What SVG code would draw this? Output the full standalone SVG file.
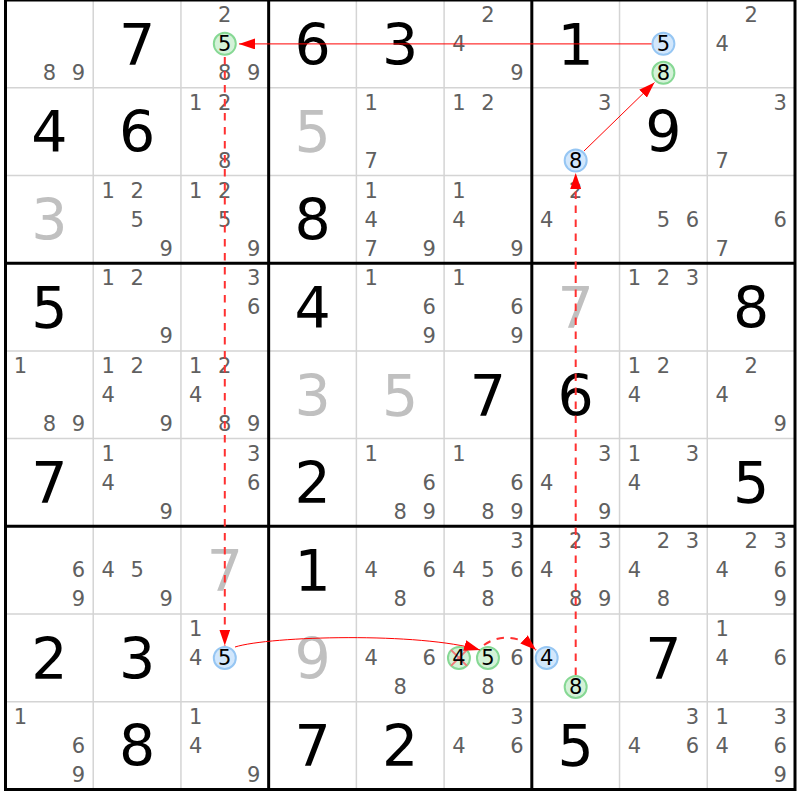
<svg xmlns="http://www.w3.org/2000/svg" width="800" height="800" viewBox="0 0 800 800">
<style>
text{font-family:"DejaVu Sans","Verdana",sans-serif;text-anchor:middle}
.g{font-size:57px;fill:#000}
.s{font-size:57px;fill:#c0c0c0}
.c{font-size:21px;fill:#606060}
.h{font-size:21px;fill:#000}
.thin{stroke:#d4d4d4;stroke-width:1.5}
.thick{stroke:#000;stroke-width:3;fill:none}
.cb{fill:#d2e7fc;stroke:#96c6f3;stroke-width:2}
.cg{fill:#d4f2d8;stroke:#86d894;stroke-width:2}
.x{stroke:#f07878;stroke-width:2}
.ln{stroke:#ff0000;stroke-width:1;fill:none}
.dl{stroke:#ff3030;stroke-width:2;fill:none;stroke-dasharray:7.5 6.5}
</style>
<defs>
<marker id="ah" markerUnits="userSpaceOnUse" markerWidth="16" markerHeight="11" viewBox="0 0 16 11" refX="16" refY="5.5" orient="auto">
<path d="M0,0 L16,5.5 L0,11 z" fill="#ff0000"/>
</marker>
</defs>
<rect width="800" height="800" fill="#fff"/>
<g id="grid">
<path class="thin" d="M93.22 0V789.5M180.94 0V789.5M356.38 0V789.5M444.1 0V789.5M619.54 0V789.5M707.26 0V789.5M5.5 87.72H795M5.5 175.44H795M5.5 350.88H795M5.5 438.6H795M5.5 614.04H795M5.5 701.76H795"/>
<path class="thick" d="M268.66 0V789.5M531.82 0V789.5M5.5 263.16H795M5.5 526.32H795"/>
<rect class="thick" x="5.5" y="0" width="789.5" height="789.5"/>
</g>
<!-- Row 0 -->
<g id="r1c1" transform="translate(49.36,43.86)"><text class="c" x="0" y="36.3">8</text><text class="c" x="29" y="36.3">9</text></g>
<g id="r1c2" transform="translate(137.08,43.86)"><text class="g" y="20.8">7</text></g>
<g id="r1c3" transform="translate(224.8,43.86)"><text class="c" x="0" y="-21.7">2</text><circle class="cg" cx="0" cy="0" r="11"/><text class="h" x="0" y="7.3">5</text><text class="c" x="0" y="36.3">8</text><text class="c" x="29" y="36.3">9</text></g>
<g id="r1c4" transform="translate(312.52,43.86)"><text class="g" y="20.8">6</text></g>
<g id="r1c5" transform="translate(400.24,43.86)"><text class="g" y="20.8">3</text></g>
<g id="r1c6" transform="translate(487.96,43.86)"><text class="c" x="0" y="-21.7">2</text><text class="c" x="-29" y="7.3">4</text><text class="c" x="29" y="36.3">9</text></g>
<g id="r1c7" transform="translate(575.68,43.86)"><text class="g" y="20.8">1</text></g>
<g id="r1c8" transform="translate(663.4,43.86)"><circle class="cb" cx="0" cy="0" r="11"/><text class="h" x="0" y="7.3">5</text><circle class="cg" cx="0" cy="29" r="11"/><text class="h" x="0" y="36.3">8</text></g>
<g id="r1c9" transform="translate(751.12,43.86)"><text class="c" x="0" y="-21.7">2</text><text class="c" x="-29" y="7.3">4</text></g>
<!-- Row 1 -->
<g id="r2c1" transform="translate(49.36,131.58)"><text class="g" y="20.8">4</text></g>
<g id="r2c2" transform="translate(137.08,131.58)"><text class="g" y="20.8">6</text></g>
<g id="r2c3" transform="translate(224.8,131.58)"><text class="c" x="-29" y="-21.7">1</text><text class="c" x="0" y="-21.7">2</text><text class="c" x="0" y="36.3">8</text></g>
<g id="r2c4" transform="translate(312.52,131.58)"><text class="s" y="20.8">5</text></g>
<g id="r2c5" transform="translate(400.24,131.58)"><text class="c" x="-29" y="-21.7">1</text><text class="c" x="-29" y="36.3">7</text></g>
<g id="r2c6" transform="translate(487.96,131.58)"><text class="c" x="-29" y="-21.7">1</text><text class="c" x="0" y="-21.7">2</text></g>
<g id="r2c7" transform="translate(575.68,131.58)"><text class="c" x="29" y="-21.7">3</text><circle class="cb" cx="0" cy="29" r="11"/><text class="h" x="0" y="36.3">8</text></g>
<g id="r2c8" transform="translate(663.4,131.58)"><text class="g" y="20.8">9</text></g>
<g id="r2c9" transform="translate(751.12,131.58)"><text class="c" x="29" y="-21.7">3</text><text class="c" x="-29" y="36.3">7</text></g>
<!-- Row 2 -->
<g id="r3c1" transform="translate(49.36,219.3)"><text class="s" y="20.8">3</text></g>
<g id="r3c2" transform="translate(137.08,219.3)"><text class="c" x="-29" y="-21.7">1</text><text class="c" x="0" y="-21.7">2</text><text class="c" x="0" y="7.3">5</text><text class="c" x="29" y="36.3">9</text></g>
<g id="r3c3" transform="translate(224.8,219.3)"><text class="c" x="-29" y="-21.7">1</text><text class="c" x="0" y="-21.7">2</text><text class="c" x="0" y="7.3">5</text><text class="c" x="29" y="36.3">9</text></g>
<g id="r3c4" transform="translate(312.52,219.3)"><text class="g" y="20.8">8</text></g>
<g id="r3c5" transform="translate(400.24,219.3)"><text class="c" x="-29" y="-21.7">1</text><text class="c" x="-29" y="7.3">4</text><text class="c" x="-29" y="36.3">7</text><text class="c" x="29" y="36.3">9</text></g>
<g id="r3c6" transform="translate(487.96,219.3)"><text class="c" x="-29" y="-21.7">1</text><text class="c" x="-29" y="7.3">4</text><text class="c" x="29" y="36.3">9</text></g>
<g id="r3c7" transform="translate(575.68,219.3)"><text class="c" x="0" y="-21.7">2</text><text class="c" x="-29" y="7.3">4</text></g>
<g id="r3c8" transform="translate(663.4,219.3)"><text class="c" x="0" y="7.3">5</text><text class="c" x="29" y="7.3">6</text></g>
<g id="r3c9" transform="translate(751.12,219.3)"><text class="c" x="29" y="7.3">6</text><text class="c" x="-29" y="36.3">7</text></g>
<!-- Row 3 -->
<g id="r4c1" transform="translate(49.36,307.02)"><text class="g" y="20.8">5</text></g>
<g id="r4c2" transform="translate(137.08,307.02)"><text class="c" x="-29" y="-21.7">1</text><text class="c" x="0" y="-21.7">2</text><text class="c" x="29" y="36.3">9</text></g>
<g id="r4c3" transform="translate(224.8,307.02)"><text class="c" x="29" y="-21.7">3</text><text class="c" x="29" y="7.3">6</text></g>
<g id="r4c4" transform="translate(312.52,307.02)"><text class="g" y="20.8">4</text></g>
<g id="r4c5" transform="translate(400.24,307.02)"><text class="c" x="-29" y="-21.7">1</text><text class="c" x="29" y="7.3">6</text><text class="c" x="29" y="36.3">9</text></g>
<g id="r4c6" transform="translate(487.96,307.02)"><text class="c" x="-29" y="-21.7">1</text><text class="c" x="29" y="7.3">6</text><text class="c" x="29" y="36.3">9</text></g>
<g id="r4c7" transform="translate(575.68,307.02)"><text class="s" y="20.8">7</text></g>
<g id="r4c8" transform="translate(663.4,307.02)"><text class="c" x="-29" y="-21.7">1</text><text class="c" x="0" y="-21.7">2</text><text class="c" x="29" y="-21.7">3</text></g>
<g id="r4c9" transform="translate(751.12,307.02)"><text class="g" y="20.8">8</text></g>
<!-- Row 4 -->
<g id="r5c1" transform="translate(49.36,394.74)"><text class="c" x="-29" y="-21.7">1</text><text class="c" x="0" y="36.3">8</text><text class="c" x="29" y="36.3">9</text></g>
<g id="r5c2" transform="translate(137.08,394.74)"><text class="c" x="-29" y="-21.7">1</text><text class="c" x="0" y="-21.7">2</text><text class="c" x="-29" y="7.3">4</text><text class="c" x="29" y="36.3">9</text></g>
<g id="r5c3" transform="translate(224.8,394.74)"><text class="c" x="-29" y="-21.7">1</text><text class="c" x="0" y="-21.7">2</text><text class="c" x="-29" y="7.3">4</text><text class="c" x="0" y="36.3">8</text><text class="c" x="29" y="36.3">9</text></g>
<g id="r5c4" transform="translate(312.52,394.74)"><text class="s" y="20.8">3</text></g>
<g id="r5c5" transform="translate(400.24,394.74)"><text class="s" y="20.8">5</text></g>
<g id="r5c6" transform="translate(487.96,394.74)"><text class="g" y="20.8">7</text></g>
<g id="r5c7" transform="translate(575.68,394.74)"><text class="g" y="20.8">6</text></g>
<g id="r5c8" transform="translate(663.4,394.74)"><text class="c" x="-29" y="-21.7">1</text><text class="c" x="0" y="-21.7">2</text><text class="c" x="-29" y="7.3">4</text></g>
<g id="r5c9" transform="translate(751.12,394.74)"><text class="c" x="0" y="-21.7">2</text><text class="c" x="-29" y="7.3">4</text><text class="c" x="29" y="36.3">9</text></g>
<!-- Row 5 -->
<g id="r6c1" transform="translate(49.36,482.46)"><text class="g" y="20.8">7</text></g>
<g id="r6c2" transform="translate(137.08,482.46)"><text class="c" x="-29" y="-21.7">1</text><text class="c" x="-29" y="7.3">4</text><text class="c" x="29" y="36.3">9</text></g>
<g id="r6c3" transform="translate(224.8,482.46)"><text class="c" x="29" y="-21.7">3</text><text class="c" x="29" y="7.3">6</text></g>
<g id="r6c4" transform="translate(312.52,482.46)"><text class="g" y="20.8">2</text></g>
<g id="r6c5" transform="translate(400.24,482.46)"><text class="c" x="-29" y="-21.7">1</text><text class="c" x="29" y="7.3">6</text><text class="c" x="0" y="36.3">8</text><text class="c" x="29" y="36.3">9</text></g>
<g id="r6c6" transform="translate(487.96,482.46)"><text class="c" x="-29" y="-21.7">1</text><text class="c" x="29" y="7.3">6</text><text class="c" x="0" y="36.3">8</text><text class="c" x="29" y="36.3">9</text></g>
<g id="r6c7" transform="translate(575.68,482.46)"><text class="c" x="29" y="-21.7">3</text><text class="c" x="-29" y="7.3">4</text><text class="c" x="29" y="36.3">9</text></g>
<g id="r6c8" transform="translate(663.4,482.46)"><text class="c" x="-29" y="-21.7">1</text><text class="c" x="29" y="-21.7">3</text><text class="c" x="-29" y="7.3">4</text></g>
<g id="r6c9" transform="translate(751.12,482.46)"><text class="g" y="20.8">5</text></g>
<!-- Row 6 -->
<g id="r7c1" transform="translate(49.36,570.18)"><text class="c" x="29" y="7.3">6</text><text class="c" x="29" y="36.3">9</text></g>
<g id="r7c2" transform="translate(137.08,570.18)"><text class="c" x="-29" y="7.3">4</text><text class="c" x="0" y="7.3">5</text><text class="c" x="29" y="36.3">9</text></g>
<g id="r7c3" transform="translate(224.8,570.18)"><text class="s" y="20.8">7</text></g>
<g id="r7c4" transform="translate(312.52,570.18)"><text class="g" y="20.8">1</text></g>
<g id="r7c5" transform="translate(400.24,570.18)"><text class="c" x="-29" y="7.3">4</text><text class="c" x="29" y="7.3">6</text><text class="c" x="0" y="36.3">8</text></g>
<g id="r7c6" transform="translate(487.96,570.18)"><text class="c" x="29" y="-21.7">3</text><text class="c" x="-29" y="7.3">4</text><text class="c" x="0" y="7.3">5</text><text class="c" x="29" y="7.3">6</text><text class="c" x="0" y="36.3">8</text></g>
<g id="r7c7" transform="translate(575.68,570.18)"><text class="c" x="0" y="-21.7">2</text><text class="c" x="29" y="-21.7">3</text><text class="c" x="-29" y="7.3">4</text><text class="c" x="0" y="36.3">8</text><text class="c" x="29" y="36.3">9</text></g>
<g id="r7c8" transform="translate(663.4,570.18)"><text class="c" x="0" y="-21.7">2</text><text class="c" x="29" y="-21.7">3</text><text class="c" x="-29" y="7.3">4</text><text class="c" x="0" y="36.3">8</text></g>
<g id="r7c9" transform="translate(751.12,570.18)"><text class="c" x="0" y="-21.7">2</text><text class="c" x="29" y="-21.7">3</text><text class="c" x="-29" y="7.3">4</text><text class="c" x="29" y="7.3">6</text><text class="c" x="29" y="36.3">9</text></g>
<!-- Row 7 -->
<g id="r8c1" transform="translate(49.36,657.9)"><text class="g" y="20.8">2</text></g>
<g id="r8c2" transform="translate(137.08,657.9)"><text class="g" y="20.8">3</text></g>
<g id="r8c3" transform="translate(224.8,657.9)"><text class="c" x="-29" y="-21.7">1</text><text class="c" x="-29" y="7.3">4</text><circle class="cb" cx="0" cy="0" r="11"/><text class="h" x="0" y="7.3">5</text></g>
<g id="r8c4" transform="translate(312.52,657.9)"><text class="s" y="20.8">9</text></g>
<g id="r8c5" transform="translate(400.24,657.9)"><text class="c" x="-29" y="7.3">4</text><text class="c" x="29" y="7.3">6</text><text class="c" x="0" y="36.3">8</text></g>
<g id="r8c6" transform="translate(487.96,657.9)"><circle class="cg" cx="-29" cy="0" r="11"/><path class="x" d="M-37 -8L-21 8M-21 -8L-37 8"/><text class="h" x="-29" y="7.3">4</text><circle class="cg" cx="0" cy="0" r="11"/><text class="h" x="0" y="7.3">5</text><text class="c" x="29" y="7.3">6</text><text class="c" x="0" y="36.3">8</text></g>
<g id="r8c7" transform="translate(575.68,657.9)"><circle class="cb" cx="-29" cy="0" r="11"/><text class="h" x="-29" y="7.3">4</text><circle class="cg" cx="0" cy="29" r="11"/><text class="h" x="0" y="36.3">8</text></g>
<g id="r8c8" transform="translate(663.4,657.9)"><text class="g" y="20.8">7</text></g>
<g id="r8c9" transform="translate(751.12,657.9)"><text class="c" x="-29" y="-21.7">1</text><text class="c" x="-29" y="7.3">4</text><text class="c" x="29" y="7.3">6</text></g>
<!-- Row 8 -->
<g id="r9c1" transform="translate(49.36,745.62)"><text class="c" x="-29" y="-21.7">1</text><text class="c" x="29" y="7.3">6</text><text class="c" x="29" y="36.3">9</text></g>
<g id="r9c2" transform="translate(137.08,745.62)"><text class="g" y="20.8">8</text></g>
<g id="r9c3" transform="translate(224.8,745.62)"><text class="c" x="-29" y="-21.7">1</text><text class="c" x="-29" y="7.3">4</text><text class="c" x="29" y="36.3">9</text></g>
<g id="r9c4" transform="translate(312.52,745.62)"><text class="g" y="20.8">7</text></g>
<g id="r9c5" transform="translate(400.24,745.62)"><text class="g" y="20.8">2</text></g>
<g id="r9c6" transform="translate(487.96,745.62)"><text class="c" x="29" y="-21.7">3</text><text class="c" x="-29" y="7.3">4</text><text class="c" x="29" y="7.3">6</text></g>
<g id="r9c7" transform="translate(575.68,745.62)"><text class="g" y="20.8">5</text></g>
<g id="r9c8" transform="translate(663.4,745.62)"><text class="c" x="29" y="-21.7">3</text><text class="c" x="-29" y="7.3">4</text><text class="c" x="29" y="7.3">6</text></g>
<g id="r9c9" transform="translate(751.12,745.62)"><text class="c" x="-29" y="-21.7">1</text><text class="c" x="29" y="-21.7">3</text><text class="c" x="-29" y="7.3">4</text><text class="c" x="29" y="7.3">6</text><text class="c" x="29" y="36.3">9</text></g>
<g id="connectors">
<path class="ln" d="M651.5 43.9L239 43.9" marker-end="url(#ah)"/>
<path class="dl" d="M224.8 57L224.8 645.5" marker-end="url(#ah)"/>
<path class="ln" d="M235 647C270 636 420 632 480 650" marker-end="url(#ah)"/>
<path class="dl" d="M484 645C498 635 518 634 536 650" marker-end="url(#ah)"/>
<path class="dl" d="M575.7 675L575.7 173" marker-end="url(#ah)"/>
<path class="ln" d="M584 151L654.5 82.5" marker-end="url(#ah)"/>
</g>
</svg>
